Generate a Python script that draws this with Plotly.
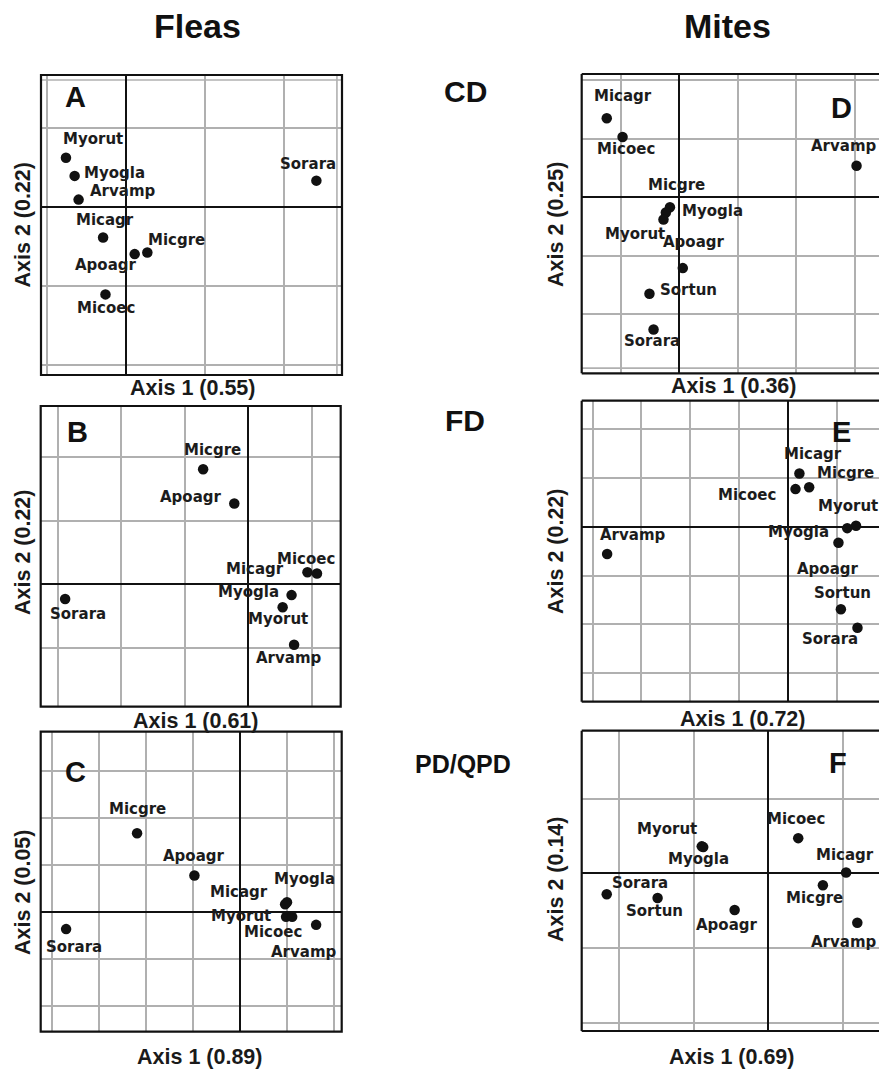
import plotly.graph_objects as go

W, H = 879, 1073

# ---- ordination scores (grid units) --------------------------------------
# Fleas, CD
a_species = ["Myorut", "Myogla", "Arvamp", "Micagr", "Apoagr", "Micgre", "Micoec", "Sorara"]
a_axis1 = [-0.76, -0.65, -0.60, -0.29, 0.11, 0.27, -0.26, 2.41]
a_axis2 = [0.62, 0.39, 0.09, -0.39, -0.60, -0.58, -1.11, 0.33]

# Fleas, FD
b_species = ["Micgre", "Apoagr", "Micagr", "Micoec", "Myogla", "Myorut", "Arvamp", "Sorara"]
b_axis1 = [-0.71, -0.22, 0.93, 1.08, 0.68, 0.54, 0.72, -2.88]
b_axis2 = [1.81, 1.27, 0.19, 0.17, -0.17, -0.36, -0.95, -0.23]

# Fleas, PD/QPD
c_species = ["Micgre", "Apoagr", "Myogla", "Micagr", "Myorut", "Micoec", "Arvamp", "Sorara"]
c_axis1 = [-2.19, -0.97, 1.00, 0.96, 0.98, 1.11, 1.62, -3.70]
c_axis2 = [1.67, 0.77, 0.20, 0.16, -0.11, -0.11, -0.28, -0.37]

# Mites, CD
d_species = ["Micagr", "Micoec", "Arvamp", "Micgre", "Myogla", "Myorut", "Apoagr", "Sortun", "Sorara"]
d_axis1 = [-1.24, -0.97, 3.03, -0.16, -0.23, -0.27, 0.06, -0.51, -0.44]
d_axis2 = [1.35, 1.03, 0.54, -0.17, -0.26, -0.38, -1.21, -1.65, -2.26]

# Mites, FD
e_species = ["Micagr", "Micoec", "Micgre", "Myorut", "Myogla", "Apoagr", "Sortun", "Sorara", "Arvamp"]
e_axis1 = [0.24, 0.16, 0.44, 1.40, 1.22, 1.04, 1.09, 1.43, -3.70]
e_axis2 = [1.09, 0.77, 0.81, 0.02, -0.03, -0.33, -1.69, -2.07, -0.56]

# Mites, PD/QPD
f_species = ["Myorut", "Myogla", "Micoec", "Micagr", "Micgre", "Arvamp", "Sorara", "Sortun", "Apoagr"]
f_axis1 = [-0.89, -0.87, 0.40, 1.04, 0.73, 1.19, -2.16, -1.48, -0.45]
f_axis2 = [0.36, 0.35, 0.47, 0.01, -0.16, -0.66, -0.28, -0.33, -0.49]

# explained-variance shares shown in the axis titles
axis1_share = ["0.55", "0.61", "0.89", "0.36", "0.72", "0.69"]
axis2_share = ["0.22", "0.22", "0.05", "0.25", "0.22", "0.14"]

# ---- label placement (pixel offsets from each dot: right, down) ----------
label_offsets = {
    "A": {"Myorut": (27, -19), "Myogla": (40, -3), "Arvamp": (44, -9), "Micagr": (2, -18),
          "Apoagr": (-29, 11), "Micgre": (29, -13), "Micoec": (1, 14), "Sorara": (-8, -17)},
    "B": {"Micgre": (9, -19), "Apoagr": (-43, -7), "Micagr": (-52, -3), "Micoec": (-11, -14),
          "Myogla": (-43, -3), "Myorut": (-5, 12), "Arvamp": (-5, 13), "Sorara": (13, 15)},
    "C": {"Micgre": (0, -24), "Apoagr": (0, -20), "Myogla": (17, -23), "Micagr": (-46, -12),
          "Myorut": (-45, -1), "Micoec": (-19, 15), "Arvamp": (-12, 27), "Sorara": (8, 18)},
    "D": {"Micagr": (16, -22), "Micoec": (3, 12), "Arvamp": (-13, -20), "Micgre": (7, -22),
          "Myogla": (47, -2), "Myorut": (-29, 14), "Apoagr": (11, -26), "Sortun": (39, -4),
          "Sorara": (-2, 11)},
    "E": {"Micagr": (14, -20), "Micoec": (-49, 6), "Micgre": (36, -14), "Myorut": (-8, -20),
          "Myogla": (-49, 4), "Apoagr": (-10, 26), "Sortun": (2, -16), "Sorara": (-27, 11),
          "Arvamp": (26, -19)},
    "F": {"Myorut": (-35, -17), "Myogla": (-5, 12), "Micoec": (-2, -19), "Micagr": (-1, -18),
          "Micgre": (-8, 13), "Arvamp": (-13, 19), "Sorara": (33, -11), "Sortun": (-3, 13),
          "Apoagr": (-8, 15)},
}

# ---- panel geometry (pixels): frame box, position of the origin, grid step ----
panels = [
    dict(letter="A", sp=a_species, x=a_axis1, y=a_axis2, box=(41, 75, 342, 375), origin=(126, 206.7),
         unit=79, letter_xy=(75.5, 97), x_title=(192.5, 387.5), y_title=(22.5, 225),
         extra_v=[2.67], extra_h=[1.604], open_right=False),
    dict(letter="B", sp=b_species, x=b_axis1, y=b_axis2, box=(40.7, 406, 340.7, 706.7), origin=(248.3, 584.3),
         unit=63.6, letter_xy=(77, 432), x_title=(195, 721), y_title=(23, 553),
         extra_v=[], extra_h=[], open_right=False),
    dict(letter="C", sp=c_species, x=c_axis1, y=c_axis2, box=(40.7, 731.7, 341.7, 1031.7), origin=(240, 911.7),
         unit=47, letter_xy=(75, 772), x_title=(199, 1057), y_title=(23, 893),
         extra_v=[], extra_h=[], open_right=False),
    dict(letter="D", sp=d_species, x=d_axis1, y=d_axis2, box=(581.7, 74, 879, 373.3), origin=(679.3, 197.3),
         unit=58.5, letter_xy=(841.7, 108.5), x_title=(733, 386), y_title=(556, 225),
         extra_v=[], extra_h=[-2.92], open_right=True),
    dict(letter="E", sp=e_species, x=e_axis1, y=e_axis2, box=(581.7, 400.7, 879, 701.7), origin=(787.7, 526.7),
         unit=48.8, letter_xy=(841.3, 432), x_title=(742.7, 719), y_title=(556, 552),
         extra_v=[], extra_h=[], open_right=True),
    dict(letter="F", sp=f_species, x=f_axis1, y=f_axis2, box=(581.7, 730.7, 879, 1031), origin=(768.3, 873.3),
         unit=74.8, letter_xy=(838.3, 762.5), x_title=(731.7, 1057), y_title=(556, 880),
         extra_v=[], extra_h=[], open_right=True),
]

INK = "#111111"
GRID = "#b0b0b0"
ARIAL = "Liberation Sans, Arial, Helvetica, sans-serif"
LABEL_FONT = dict(family="DejaVu Sans, Verdana, sans-serif", size=15, color="#1c1c1c", weight="bold")

fig = go.Figure()
shapes, annotations = [], []
layout_axes = {}

for i, p in enumerate(panels):
    n = "" if i == 0 else str(i + 1)
    xref, yref = "x" + n, "y" + n
    left, top, right, bottom = p["box"]
    ox, oy = p["origin"]
    u = p["unit"]
    x_range = [(left - ox) / u, (right - ox) / u]
    y_range = [(oy - bottom) / u, (oy - top) / u]
    common = dict(showticklabels=False, ticks="", showline=False, showgrid=True,
                  gridcolor=GRID, gridwidth=1.6, zeroline=True, zerolinecolor=INK,
                  zerolinewidth=2.2, tick0=0, dtick=1, fixedrange=True)
    layout_axes["xaxis" + n] = dict(domain=[left / W, right / W], range=x_range, anchor=yref, **common)
    layout_axes["yaxis" + n] = dict(domain=[1 - bottom / H, 1 - top / H], range=y_range, anchor=xref, **common)

    fig.add_trace(go.Scatter(x=p["x"], y=p["y"], text=p["sp"], mode="markers",
                             marker=dict(size=10.5, color=INK), xaxis=xref, yaxis=yref,
                             hoverinfo="text", showlegend=False))

    # thin frame lines of the data extent
    for xv in p["extra_v"]:
        shapes.append(dict(type="line", xref=xref, yref=yref + " domain", x0=xv, x1=xv, y0=0, y1=1,
                           line=dict(color=GRID, width=1.6), layer="below"))
    for yv in p["extra_h"]:
        shapes.append(dict(type="line", xref=xref + " domain", yref=yref, x0=0, x1=1, y0=yv, y1=yv,
                           line=dict(color=GRID, width=1.6), layer="below"))

    # outer frame
    dx, dy = xref + " domain", yref + " domain"
    frame = dict(color=INK, width=2.2)
    if p["open_right"]:
        shapes += [dict(type="line", xref=dx, yref=dy, x0=0, x1=0, y0=0, y1=1, line=frame),
                   dict(type="line", xref=dx, yref=dy, x0=0, x1=1, y0=0, y1=0, line=frame),
                   dict(type="line", xref=dx, yref=dy, x0=0, x1=1, y0=1, y1=1, line=frame)]
    else:
        shapes.append(dict(type="rect", xref=dx, yref=dy, x0=0, x1=1, y0=0, y1=1, line=frame))

    # species labels
    offs = label_offsets[p["letter"]]
    for name, xv, yv in zip(p["sp"], p["x"], p["y"]):
        ddx, ddy = offs[name]
        annotations.append(dict(x=xv, y=yv, xref=xref, yref=yref, text=name, showarrow=False,
                                xanchor="center", yanchor="middle", xshift=ddx, yshift=-ddy,
                                font=LABEL_FONT))

    # panel letter
    lx, ly = p["letter_xy"]
    annotations.append(dict(x=lx / W, y=1 - ly / H, xref="paper", yref="paper", text=p["letter"],
                            showarrow=False, xanchor="center", yanchor="middle",
                            font=dict(family=ARIAL, size=29, color=INK, weight="bold")))

    # axis titles
    tx, ty = p["x_title"]
    annotations.append(dict(x=tx / W, y=1 - ty / H, xref="paper", yref="paper",
                            text=f"Axis 1 ({axis1_share[i]})", showarrow=False,
                            xanchor="center", yanchor="middle",
                            font=dict(family=ARIAL, size=21.5, color="#1a1a1a", weight="bold")))
    vx, vy = p["y_title"]
    annotations.append(dict(x=vx / W, y=1 - vy / H, xref="paper", yref="paper",
                            text=f"Axis 2 ({axis2_share[i]})", showarrow=False, textangle=-90,
                            xanchor="center", yanchor="middle",
                            font=dict(family=ARIAL, size=21.5, color="#1a1a1a", weight="bold")))

# column headings and row (distance measure) labels
for text, px, py, size in [("Fleas", 197, 26, 34), ("Mites", 727, 26, 34),
                           ("CD", 465, 92, 30), ("FD", 465, 420, 30), ("PD/QPD", 463, 764, 25)]:
    annotations.append(dict(x=px / W, y=1 - py / H, xref="paper", yref="paper", text=text,
                            showarrow=False, xanchor="center", yanchor="middle",
                            font=dict(family=ARIAL, size=size, color="#111", weight="bold")))

fig.update_layout(width=W, height=H, margin=dict(l=0, r=0, t=0, b=0),
                  paper_bgcolor="white", plot_bgcolor="white",
                  shapes=shapes, annotations=annotations, **layout_axes)

fig.write_html("out.html")
